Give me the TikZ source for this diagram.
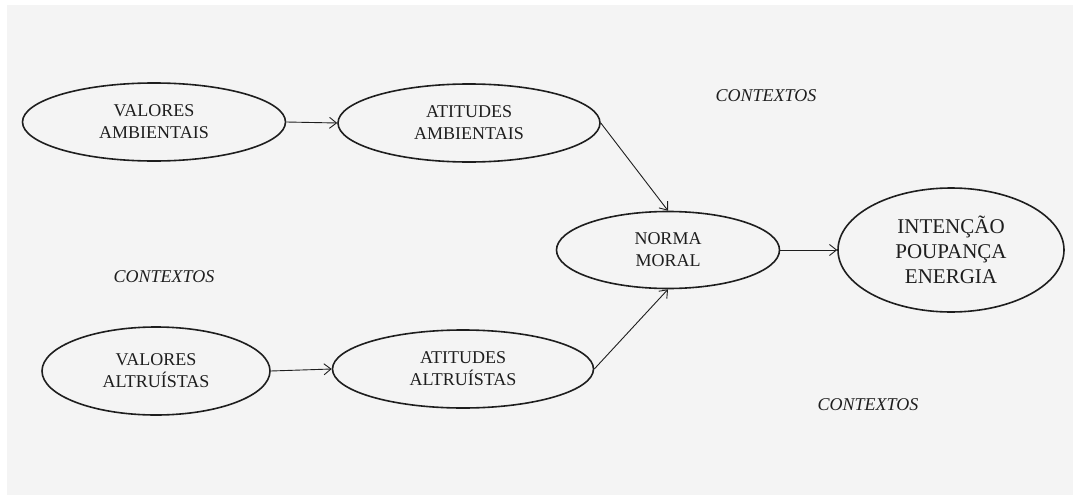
\documentclass[tikz,border=0pt]{standalone}
\usepackage{fontspec}
\setmainfont{Liberation Serif}
\usetikzlibrary{shapes.geometric,arrows.meta}
\definecolor{paper}{HTML}{F4F4F4}
\definecolor{ink}{HTML}{1E1E1E}
\tikzset{
  oval/.style={ellipse, draw=ink, line width=1.6pt, inner sep=0pt, align=center,
    text=ink, font=\fontsize{18}{22}\selectfont},
  link/.style={draw=ink, line width=0.9pt, -{Straight Barb[length=7pt,width=11pt]}},
  ctx/.style={text=ink, font=\fontsize{18}{22}\selectfont\itshape}
}
\begin{document}
\begin{tikzpicture}[x=1pt,y=-1pt]
  \useasboundingbox (0,0) rectangle (1073,495);
  \fill[paper] (7,5) rectangle (1073,495);

  % construct ovals
  \node[oval, minimum width=263pt, minimum height=78pt] (vamb) at (154,122) {VALORES\\AMBIENTAIS};
  \node[oval, minimum width=262pt, minimum height=78pt] (aamb) at (469,123) {ATITUDES\\AMBIENTAIS};
  \node[oval, minimum width=223pt, minimum height=77pt] (norma) at (668,250) {NORMA\\MORAL};
  \node[oval, minimum width=226pt, minimum height=124pt, font=\fontsize{21}{25}\selectfont] (int) at (951,250) {INTENÇÃO\\POUPANÇA\\ENERGIA};
  \node[oval, minimum width=228pt, minimum height=88pt] (valt) at (156,371) {VALORES\\ALTRUÍSTAS};
  \node[oval, minimum width=261pt, minimum height=78pt] (aalt) at (463,369) {ATITUDES\\ALTRUÍSTAS};

  % context labels
  \node[ctx] (c1) at (766,96) {CONTEXTOS};
  \node[ctx] (c2) at (164,277) {CONTEXTOS};
  \node[ctx] (c3) at (868,405) {CONTEXTOS};

  % paths
  \draw[link] (vamb.east) -- (aamb.west);
  \draw[link] (valt.east) -- (aalt.west);
  \draw[link] (aamb.east) -- (norma.north);
  \draw[link] (aalt.east) -- (norma.south);
  \draw[link] (norma.east) -- (int.west);
\end{tikzpicture}
\end{document}
